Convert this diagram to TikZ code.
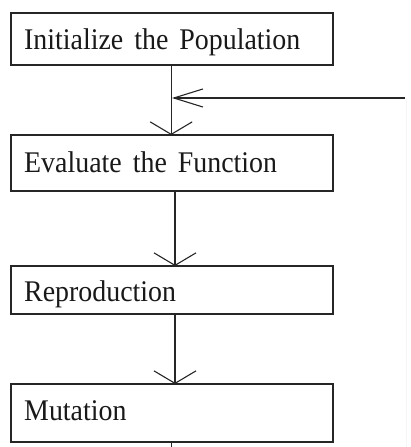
\documentclass[tikz,border=0pt]{standalone}
\usepackage{fontspec}
\setmainfont{Liberation Serif}
\newfontfamily\boxfont[FakeStretch=0.93]{Liberation Serif}
\usetikzlibrary{arrows.meta}
\newcommand\mywidespace{\spaceskip 11pt plus 1pt\relax}
\begin{document}
\begin{tikzpicture}[x=1pt,y=-1pt,
  box/.style={draw=black!85, line width=1.4pt, rectangle, minimum width=322pt, inner sep=0pt, outer sep=0pt},
  boxtext/.style={anchor=base west, inner sep=0pt, text=black!90, font=\boxfont\fontsize{30}{32}\selectfont\mywidespace},
  conn/.style={draw=black!85, line width=1.2pt},
  downtip/.style={-{Straight Barb[length=12.5pt, width=42pt, line width=1.1pt]}},
  lefttip/.style={-{Straight Barb[length=29pt, width=18pt, line width=1.1pt]}}]
\useasboundingbox (0,0) rectangle (410,447);
\fill[white] (0,0) rectangle (410,447);
% boxes
\node[box, minimum height=52pt] (b1) at (172,39) {};
\node[box, minimum height=56pt] (b2) at (172,163) {};
\node[box, minimum height=48pt] (b3) at (172,290) {};
\node[box, minimum height=58pt] (b4) at (172,413) {};
% texts
\node[boxtext] (t1) at (24,49) {Initialize the Population};
\node[boxtext] (t2) at (24,172) {Evaluate the Function};
\node[boxtext] (t3) at (24,301) {Reproduction};
\node[boxtext] (t4) at (24,420) {Mutation};
% feedback
\coordinate (j) at (172,98);
\coordinate (fb) at (405,98);
\coordinate (fbtop) at (406,98);
\coordinate (fbbot) at (406,447);
\coordinate (out) at (171.5,447);
\draw[draw=black!4, line width=1pt] (fbtop) -- (fbbot);
% connectors
\draw[conn] ([xshift=-0.3pt]b1.south) -- ([xshift=-0.3pt]b2.north);
\draw[conn, downtip] ([xshift=-0.8pt]j) -- ([xshift=-0.8pt]b2.north);
\draw[conn, lefttip] (fb) -- (j);
\draw[conn, downtip] ([xshift=3pt]b2.south) -- ([xshift=3pt]b3.north);
\draw[conn, downtip] ([xshift=3pt]b3.south) -- ([xshift=3pt]b4.north);
\draw[conn] ([xshift=-0.5pt]b4.south) -- (out);
\end{tikzpicture}
\end{document}
